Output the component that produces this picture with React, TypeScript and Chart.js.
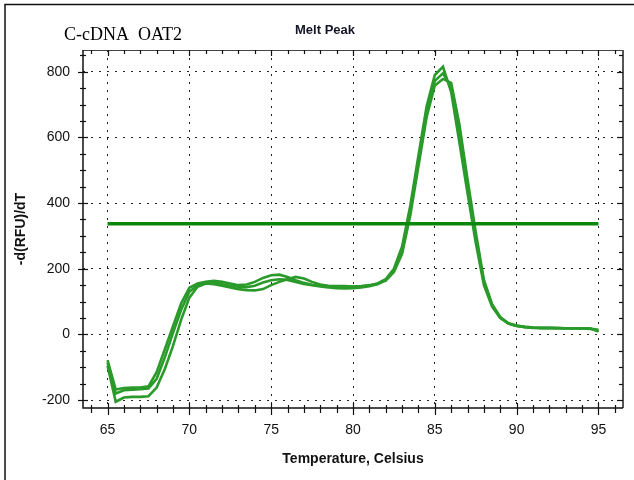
import React, { useEffect, useRef } from 'react';
import { Chart, registerables } from 'chart.js';

Chart.register(...registerables);

// ---- Data ----
const temps = [
  65, 65.5, 66, 66.5, 67, 67.5, 68, 68.5, 69, 69.5,
  70, 70.5, 71, 71.5, 72, 72.5, 73, 73.5, 74, 74.5,
  75, 75.5, 76, 76.5, 77, 77.5, 78, 78.5, 79, 79.5,
  80, 80.5, 81, 81.5, 82, 82.5, 83, 83.5, 84, 84.5,
  85, 85.5, 86, 86.5, 87, 87.5, 88, 88.5, 89, 89.5,
  90, 90.5, 91, 91.5, 92, 92.5, 93, 93.5, 94, 94.5,
  95,
];

const curveA = [
  -78, -168, -163, -162, -162, -158, -115, -45, 25, 95,
  142, 155, 160, 163, 160, 155, 150, 152, 160, 172,
  180, 182, 175, 165, 157, 151, 148, 146, 146, 145,
  145, 146, 149, 155, 168, 200, 268, 392, 545, 695,
  790, 815, 738, 585, 430, 280, 150, 85, 50, 33,
  26, 23, 21, 20, 20, 20, 19, 19, 19, 18,
  9,
];

const curveB = [
  -95, -205, -192, -190, -190, -188, -162, -105, -35, 45,
  112, 145, 155, 153, 148, 143, 138, 135, 134, 138,
  150, 160, 168, 175, 170, 160, 152, 148, 147, 147,
  146, 147, 150, 154, 164, 190, 245, 362, 512, 662,
  758, 778, 766, 640, 472, 312, 166, 92, 53, 34,
  27, 23, 21, 20, 20, 19, 19, 19, 18, 18,
  14,
];

const curveC = [
  -85, -180, -170, -168, -167, -165, -135, -70, 5, 75,
  130, 150, 157, 158, 153, 148, 145, 144, 148, 158,
  165, 168, 166, 160, 154, 150, 146, 143, 141, 140,
  141, 143, 147, 153, 166, 195, 258, 378, 528, 678,
  772, 795, 752, 612, 452, 296, 158, 88, 51, 33,
  26, 22, 20, 19, 19, 19, 18, 18, 18, 17,
  11,
];

const thresholdTemps = [65, 95];
const thresholdValues = [337, 337];

const xTicks = [65, 70, 75, 80, 85, 90, 95];
const yTicks = [-200, 0, 200, 400, 600, 800];

const chartTitle = 'Melt Peak';
const sampleLabel = 'C-cDNA  OAT2';
const xTitle = 'Temperature, Celsius';
const yTitle = '-d(RFU)/dT';

// ---- Styling ----
const SANS = "'Liberation Sans', Arial, sans-serif";
const SERIF = "'Liberation Serif', 'Times New Roman', serif";
const CURVE_OUTER = '#2a9a2a';
const CURVE_INNER = '#eefaee';
const THRESH = '#0b870b';

const toPoints = (xs: number[], ys: number[]) => xs.map((x, i) => ({ x, y: ys[i] }));

const decoPlugin = {
  id: 'deco',
  beforeDraw(chart: any) {
    const { ctx, width, height } = chart;
    ctx.save();
    ctx.fillStyle = '#ffffff';
    ctx.fillRect(0, 0, width, height);
    // outer frame (left + top)
    ctx.strokeStyle = '#111';
    ctx.lineWidth = 1.5;
    ctx.beginPath();
    ctx.moveTo(5, height);
    ctx.lineTo(5, 4.5);
    ctx.lineTo(width, 4.5);
    ctx.stroke();
    // texts
    ctx.fillStyle = '#000';
    ctx.font = `18px ${SERIF}`;
    ctx.textAlign = 'left';
    ctx.textBaseline = 'alphabetic';
    ctx.fillText(sampleLabel, 64, 40);
    ctx.fillStyle = '#141428';
    ctx.font = `bold 13px ${SANS}`;
    ctx.textAlign = 'center';
    ctx.textBaseline = 'middle';
    ctx.fillText(chartTitle, 325, 30);
    ctx.restore();
  },
  afterDatasetsDraw(chart: any) {
    const { ctx, chartArea: a, scales } = chart;
    const xs = scales.x;
    const ys = scales.y;
    ctx.save();
    // frame
    ctx.lineCap = 'butt';
    ctx.strokeStyle = '#444';
    ctx.lineWidth = 1;
    ctx.beginPath();
    ctx.moveTo(a.left, a.top + 0.5);
    ctx.lineTo(a.right, a.top + 0.5);
    ctx.stroke();
    ctx.strokeStyle = '#555';
    ctx.lineWidth = 2;
    ctx.beginPath();
    ctx.moveTo(a.right, a.top);
    ctx.lineTo(a.right, a.bottom);
    ctx.stroke();
    ctx.strokeStyle = '#111';
    ctx.lineWidth = 1.5;
    ctx.beginPath();
    ctx.moveTo(a.left, a.top);
    ctx.lineTo(a.left, a.bottom);
    ctx.lineTo(a.right, a.bottom);
    ctx.stroke();

    // x ticks (minor every 1, major every 5)
    ctx.lineWidth = 1.2;
    ctx.strokeStyle = '#111';
    for (let t = 64; t <= 96; t += 1) {
      const px = Math.round(xs.getPixelForValue(t)) + 0.5;
      const major = t % 5 === 0;
      ctx.beginPath();
      ctx.moveTo(px, a.bottom - (major ? 5 : 3));
      ctx.lineTo(px, a.bottom + (major ? 7 : 5));
      ctx.moveTo(px, a.top);
      ctx.lineTo(px, a.top + (major ? 6 : 4));
      ctx.stroke();
    }
    // y ticks (minor every 50, major every 200)
    for (let v = -200; v <= 850; v += 50) {
      const py = Math.round(ys.getPixelForValue(v)) + 0.5;
      const major = v % 200 === 0;
      ctx.beginPath();
      ctx.moveTo(a.left - (major ? 5 : 3), py);
      ctx.lineTo(a.left + (major ? 5 : 3), py);
      ctx.stroke();
      ctx.beginPath();
      ctx.moveTo(a.right - (major ? 6 : 4), py);
      ctx.lineTo(a.right, py);
      ctx.stroke();
    }
    ctx.restore();
  },
};

function curveDatasets(ys: number[]) {
  const pts = toPoints(temps, ys);
  return [
    {
      data: pts,
      borderColor: CURVE_OUTER,
      borderWidth: 2.6,
      pointRadius: 0,
      tension: 0,
      fill: false,
    },
    {
      data: pts,
      borderColor: CURVE_INNER,
      borderWidth: 0.9,
      pointRadius: 0,
      tension: 0,
      fill: false,
    },
  ];
}

export default function App() {
  const canvasRef = useRef<HTMLCanvasElement | null>(null);

  useEffect(() => {
    const canvas = canvasRef.current;
    if (!canvas) return;
    const chart = new Chart(canvas, {
      type: 'line',
      data: {
        datasets: [
          {
            data: toPoints(thresholdTemps, thresholdValues),
            borderColor: THRESH,
            borderWidth: 3.5,
            pointRadius: 0,
            fill: false,
          },
          ...curveDatasets(curveC),
          ...curveDatasets(curveB),
          ...curveDatasets(curveA),
        ] as any,
      },
      options: {
        animation: false,
        responsive: false,
        maintainAspectRatio: false,
        devicePixelRatio: 1,
        layout: { padding: { left: 0, top: 50, right: 11, bottom: 0 } },
        plugins: {
          legend: { display: false },
          title: { display: false },
          tooltip: { enabled: false },
        },
        scales: {
          x: {
            type: 'linear',
            min: 63.5,
            max: 96.5,
            afterBuildTicks: (s: any) => {
              s.ticks = xTicks.map((v) => ({ value: v }));
            },
            afterFit: (s: any) => {
              s.height = 72;
            },
            grid: { color: '#222', lineWidth: 1, drawTicks: false },
            border: { display: false, dash: [2, 6] },
            ticks: {
              padding: 14,
              color: '#111',
              autoSkip: false,
              maxRotation: 0,
              font: { family: SANS, size: 14 },
              callback: (v: any) => String(v),
            },
            title: {
              display: true,
              text: xTitle,
              color: '#111',
              font: { family: SANS, size: 14, weight: 'bold' },
              padding: { top: 0, bottom: 12 },
            },
          },
          y: {
            type: 'linear',
            min: -224,
            max: 866,
            afterBuildTicks: (s: any) => {
              s.ticks = yTicks.map((v) => ({ value: v }));
            },
            afterFit: (s: any) => {
              s.width = 83;
            },
            grid: { color: '#222', lineWidth: 1, drawTicks: false },
            border: { display: false, dash: [2, 6] },
            ticks: {
              padding: 13,
              color: '#111',
              font: { family: SANS, size: 14 },
              callback: (v: any) => String(v),
            },
            title: {
              display: true,
              text: yTitle,
              color: '#111',
              font: { family: SANS, size: 14, weight: 'bold' },
              padding: { top: 13, bottom: 0 },
            },
          },
        },
      } as any,
      plugins: [decoPlugin],
    });
    return () => chart.destroy();
  }, []);

  return (
    <div style={{ position: 'absolute', left: 0, top: 0, width: 634, height: 480 }}>
      <canvas ref={canvasRef} width={634} height={480} style={{ display: 'block' }} />
    </div>
  );
}
